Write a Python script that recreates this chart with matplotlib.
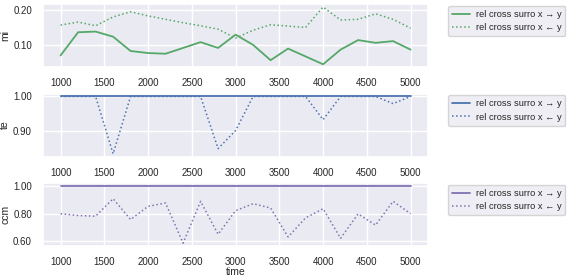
import numpy as np
import matplotlib
matplotlib.use("Agg")
import matplotlib.pyplot as plt
from matplotlib.ticker import MultipleLocator, FormatStrFormatter
import seaborn as sns

time = np.arange(1000, 5001, 200)

mi_xy = [0.068, 0.136, 0.138, 0.123, 0.081, 0.075, 0.073, 0.090, 0.107, 0.090, 0.129,
         0.099, 0.054, 0.088, 0.065, 0.042, 0.085, 0.113, 0.105, 0.110, 0.085]
mi_yx = [0.157, 0.166, 0.155, 0.181, 0.196, 0.184, 0.174, 0.164, 0.155, 0.145, 0.119,
         0.142, 0.158, 0.154, 0.150, 0.210, 0.172, 0.174, 0.190, 0.174, 0.148]

te_xy = [1.0] * 21
te_yx = [1.0, 1.0, 1.0, 0.832, 1.0, 1.0, 1.0, 1.0, 1.0, 0.847, 0.90,
         1.0, 1.0, 1.0, 1.0, 0.932, 1.0, 1.0, 1.0, 0.979, 1.0]

ccm_xy = [1.0] * 21
ccm_yx = [0.80, 0.787, 0.782, 0.908, 0.758, 0.853, 0.877, 0.588, 0.889, 0.652, 0.822,
          0.872, 0.841, 0.633, 0.770, 0.836, 0.623, 0.799, 0.718, 0.889, 0.80]

sns.set_theme(style="darkgrid")
plt.rcParams['font.family'] = ['Liberation Sans', 'DejaVu Sans']

fig, axes = plt.subplots(3, 1, figsize=(5.67, 2.78), dpi=100)
fig.subplots_adjust(left=0.076, right=0.755, top=0.985, bottom=0.115, hspace=0.42)

panels = [
    ("mi", mi_xy, mi_yx, "#55a868", 0.1),
    ("te", te_xy, te_yx, "#4c72b0", 0.1),
    ("ccm", ccm_xy, ccm_yx, "#8172b2", 0.2),
]

for ax, (name, xy, yx, col, step) in zip(axes, panels):
    ax.plot(time, xy, color=col, lw=1.3, label="rel cross surro x → y")
    ax.plot(time, yx, color=col, lw=1.1, ls=":", label="rel cross surro x ← y")
    ax.set_ylabel(name, fontsize=7.5)
    ax.yaxis.set_label_coords(-0.085, 0.5)
    ax.yaxis.set_major_locator(MultipleLocator(step))
    ax.yaxis.set_major_formatter(FormatStrFormatter('%.2f'))
    ax.set_xticks(np.arange(1000, 5001, 500))
    ax.tick_params(labelsize=7, pad=2)
    ax.legend(loc="upper left", bbox_to_anchor=(1.045, 1.02), fontsize=6.7,
              handlelength=1.9, handletextpad=0.6, borderpad=0.45,
              borderaxespad=0.3, labelspacing=0.45)

axes[2].set_xlabel("time", fontsize=7.5, labelpad=0)

plt.savefig("out.png", dpi=100)
